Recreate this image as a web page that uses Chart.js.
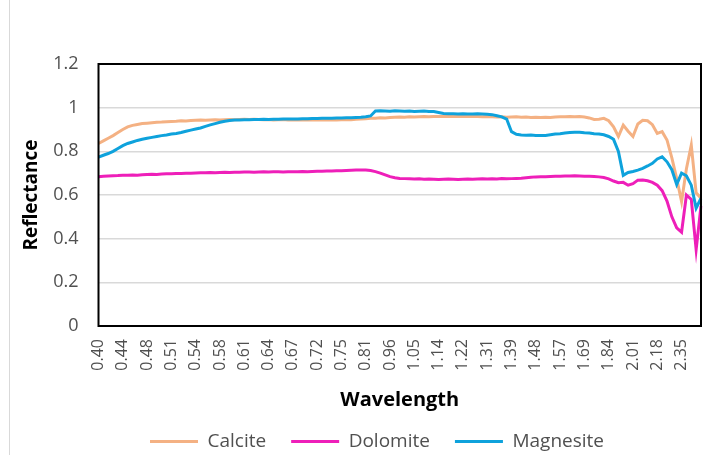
<!DOCTYPE html>
<html>
<head>
<meta charset="utf-8">
<title>Reflectance spectra</title>
<script src="https://cdn.jsdelivr.net/npm/chart.js@4/dist/chart.umd.min.js"></script>
<style>
  html, body { margin: 0; padding: 0; background: #fff; }
  #wrap { width: 724px; height: 455px; }
</style>
</head>
<body>
<div id="wrap"><canvas id="reflectance-chart" width="724" height="455"></canvas></div>
<script>
// Wavelength categories (um) - only every 5th one gets a tick label
const wavelength = [
  0.400, 0.408, 0.416, 0.424, 0.432, 0.440, 0.448, 0.456, 0.464, 0.472,
  0.480, 0.486, 0.492, 0.498, 0.504, 0.510, 0.516, 0.522, 0.528, 0.534,
  0.540, 0.548, 0.556, 0.564, 0.572, 0.580, 0.586, 0.592, 0.598, 0.604,
  0.610, 0.616, 0.622, 0.628, 0.634, 0.640, 0.646, 0.652, 0.658, 0.664,
  0.670, 0.680, 0.690, 0.700, 0.710, 0.720, 0.726, 0.732, 0.738, 0.744,
  0.750, 0.762, 0.774, 0.786, 0.798, 0.810, 0.840, 0.870, 0.900, 0.930,
  0.960, 0.978, 0.996, 1.014, 1.032, 1.050, 1.068, 1.086, 1.104, 1.122,
  1.140, 1.156, 1.172, 1.188, 1.204, 1.220, 1.238, 1.256, 1.274, 1.292,
  1.310, 1.326, 1.342, 1.358, 1.374, 1.390, 1.408, 1.426, 1.444, 1.462,
  1.480, 1.498, 1.516, 1.534, 1.552, 1.570, 1.594, 1.618, 1.642, 1.666,
  1.690, 1.720, 1.750, 1.780, 1.810, 1.840, 1.874, 1.908, 1.942, 1.976,
  2.010, 2.044, 2.078, 2.112, 2.146, 2.180, 2.214, 2.248, 2.282, 2.316,
  2.350, 2.384, 2.418, 2.452, 2.486
];

const calcite = [
  0.836, 0.848, 0.860, 0.872, 0.886, 0.900, 0.912, 0.919, 0.923, 0.927,
  0.929, 0.931, 0.933, 0.934, 0.936, 0.937, 0.938, 0.940, 0.939, 0.941,
  0.942, 0.943, 0.942, 0.944, 0.945, 0.944, 0.945, 0.946, 0.945, 0.946,
  0.947, 0.946, 0.947, 0.946, 0.945, 0.946, 0.944, 0.945, 0.946, 0.944,
  0.945, 0.944, 0.945, 0.943, 0.944, 0.945, 0.943, 0.944, 0.945, 0.944,
  0.945, 0.946, 0.945, 0.947, 0.948, 0.949, 0.951, 0.952, 0.954, 0.953,
  0.955, 0.956, 0.957, 0.956, 0.958, 0.957, 0.958, 0.959, 0.958, 0.959,
  0.960, 0.959, 0.960, 0.959, 0.960, 0.961, 0.960, 0.959, 0.960, 0.958,
  0.959, 0.958, 0.957, 0.958, 0.956, 0.957, 0.958, 0.956, 0.957, 0.955,
  0.956, 0.955, 0.956, 0.955, 0.957, 0.958, 0.958, 0.959, 0.958, 0.959,
  0.957, 0.953, 0.946, 0.947, 0.951, 0.940, 0.912, 0.868, 0.920, 0.892,
  0.868, 0.925, 0.942, 0.940, 0.922, 0.882, 0.890, 0.852, 0.770, 0.675,
  0.570, 0.720, 0.828, 0.610, 0.585
];

const dolomite = [
  0.684, 0.686, 0.687, 0.688, 0.689, 0.691, 0.691, 0.692, 0.691, 0.693,
  0.694, 0.695, 0.694, 0.696, 0.697, 0.697, 0.698, 0.699, 0.700, 0.700,
  0.701, 0.702, 0.702, 0.703, 0.702, 0.703, 0.704, 0.703, 0.704, 0.704,
  0.705, 0.705, 0.704, 0.705, 0.706, 0.705, 0.706, 0.706, 0.705, 0.706,
  0.707, 0.707, 0.708, 0.707, 0.708, 0.709, 0.709, 0.710, 0.710, 0.711,
  0.711, 0.712, 0.713, 0.714, 0.715, 0.714, 0.712, 0.707, 0.700, 0.692,
  0.684, 0.679, 0.676, 0.675, 0.674, 0.673, 0.674, 0.672, 0.673, 0.672,
  0.671, 0.672, 0.673, 0.672, 0.671, 0.672, 0.673, 0.672, 0.673, 0.674,
  0.673, 0.674, 0.673, 0.675, 0.674, 0.675, 0.676, 0.677, 0.679, 0.681,
  0.683, 0.684, 0.684, 0.685, 0.686, 0.686, 0.687, 0.687, 0.688, 0.687,
  0.686, 0.686, 0.685, 0.683, 0.680, 0.674, 0.664, 0.656, 0.658, 0.645,
  0.652, 0.668, 0.669, 0.665, 0.658, 0.645, 0.620, 0.572, 0.500, 0.450,
  0.430, 0.600, 0.580, 0.350, 0.550
];

const magnesite = [
  0.773, 0.782, 0.790, 0.800, 0.813, 0.826, 0.836, 0.843, 0.850, 0.855,
  0.860, 0.864, 0.868, 0.872, 0.875, 0.879, 0.882, 0.886, 0.892, 0.897,
  0.902, 0.907, 0.914, 0.921, 0.927, 0.933, 0.938, 0.941, 0.943, 0.944,
  0.945, 0.945, 0.946, 0.946, 0.947, 0.946, 0.947, 0.947, 0.948, 0.948,
  0.948, 0.948, 0.949, 0.949, 0.950, 0.950, 0.951, 0.951, 0.952, 0.953,
  0.953, 0.954, 0.954, 0.955, 0.956, 0.958, 0.962, 0.985, 0.986, 0.985,
  0.984, 0.986, 0.985, 0.984, 0.985, 0.983, 0.984, 0.985, 0.983, 0.982,
  0.978, 0.973, 0.972, 0.972, 0.971, 0.972, 0.971, 0.971, 0.972, 0.971,
  0.970, 0.968, 0.963, 0.958, 0.948, 0.890, 0.878, 0.875, 0.874, 0.875,
  0.873, 0.872, 0.873, 0.876, 0.879, 0.881, 0.884, 0.886, 0.887, 0.887,
  0.885, 0.884, 0.881, 0.879, 0.876, 0.868, 0.855, 0.800, 0.690, 0.703,
  0.708, 0.714, 0.722, 0.733, 0.745, 0.765, 0.775, 0.752, 0.716, 0.648,
  0.700, 0.688, 0.645, 0.540, 0.585
];

const yTicks = [0, 0.2, 0.4, 0.6, 0.8, 1, 1.2];

const textGrey = '#505050';
const font = 'Open Sans';

// light outer border + black plot frame like the Excel original
const plotFrame = {
  id: 'plotFrame',
  beforeDraw(chart) {
    const ctx = chart.ctx;
    ctx.save();
    ctx.fillStyle = '#fff';
    ctx.fillRect(0, 0, chart.width, chart.height);
    ctx.strokeStyle = '#d9d9d9';
    ctx.lineWidth = 1;
    ctx.beginPath();
    ctx.moveTo(9.5, 0);
    ctx.lineTo(9.5, chart.height);
    ctx.stroke();
    ctx.restore();
  },
  afterDatasetsDraw(chart) {
    const { left, top, right, bottom } = chart.chartArea;
    const ctx = chart.ctx;
    ctx.save();
    ctx.strokeStyle = '#000';
    ctx.lineWidth = 2;
    ctx.strokeRect(left, top, right - left, bottom - top);
    ctx.restore();
  }
};

const line = (label, data, color, order) => ({
  label: label,
  data: data,
  borderColor: color,
  backgroundColor: color,
  borderWidth: 3,
  pointRadius: 0,
  tension: 0,
  fill: false,
  order: order
});

const ctx = document.getElementById('reflectance-chart').getContext('2d');
new Chart(ctx, {
  type: 'line',
  data: {
    labels: wavelength,
    datasets: [
      line('Calcite', calcite, '#f4b183', 3),
      line('Dolomite', dolomite, '#ee1fb9', 2),
      line('Magnesite', magnesite, '#0ea2dc', 1)
    ]
  },
  options: {
    responsive: false,
    animation: false,
    devicePixelRatio: 1,
    layout: { padding: { left: 53, right: 23, top: 64, bottom: 0 } },
    plugins: {
      tooltip: { enabled: false },
      legend: {
        position: 'bottom',
        maxHeight: 48,
        labels: {
          usePointStyle: true,
          pointStyle: 'line',
          pointStyleWidth: 48,
          padding: 25,
          color: textGrey,
          font: { family: font, size: 19 },
          sort: (a, b) => a.datasetIndex - b.datasetIndex
        }
      }
    },
    scales: {
      x: {
        type: 'category',
        offset: false,
        grid: { display: false, drawTicks: false },
        border: { display: false },
        ticks: {
          autoSkip: false,
          minRotation: 90,
          maxRotation: 90,
          padding: 13,
          color: textGrey,
          font: { family: font, size: 16 },
          callback: (value, index) => (index % 5 === 0 ? wavelength[index].toFixed(2) : null)
        },
        title: {
          display: true,
          text: 'Wavelength',
          color: '#000',
          padding: { top: 0, bottom: -3 },
          font: { family: font, size: 20, weight: 'bold', lineHeight: 1 }
        },
        afterFit: (scale) => { scale.height = 81; }
      },
      y: {
        min: 0,
        max: 1.2,
        grid: { color: '#d9d9d9', lineWidth: 1.5, drawTicks: false },
        border: { display: false },
        afterBuildTicks: (scale) => { scale.ticks = yTicks.map(v => ({ value: v })); },
        ticks: {
          padding: 20,
          color: textGrey,
          font: { family: font, size: 18 },
          callback: (v) => String(Math.round(v * 10) / 10)
        },
        title: {
          display: true,
          text: 'Reflectance',
          color: '#000',
          padding: { top: -33 },
          font: { family: font, size: 19, weight: 'bold', lineHeight: 1.2 }
        },
        afterFit: (scale) => { scale.width = 45.5; }
      }
    }
  },
  plugins: [plotFrame]
});
</script>
</body>
</html>
